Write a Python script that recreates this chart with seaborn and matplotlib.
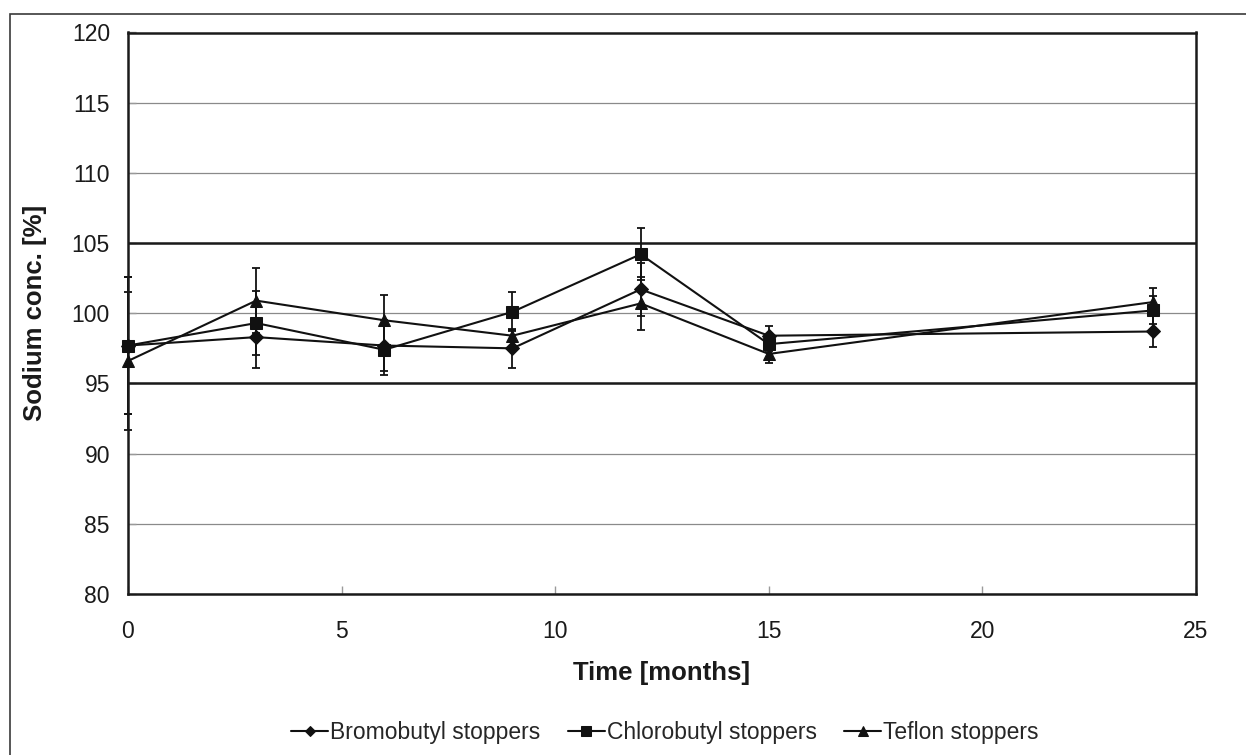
import numpy as np
import pandas as pd
import matplotlib
matplotlib.use("Agg")
import matplotlib.pyplot as plt
from matplotlib.patches import Rectangle
import seaborn as sns

# Storage time points
months = [0, 3, 6, 9, 12, 15, 24]

# Mean sodium concentration [%] and standard deviations per stopper type
bromobutyl = [97.7, 98.3, 97.7, 97.5, 101.7, 98.4, 98.7]
bromobutyl_sd = [4.9, 2.2, 1.8, 1.4, 1.9, 0.7, 1.1]
chlorobutyl = [97.7, 99.3, 97.4, 100.1, 104.2, 97.8, 100.2]
chlorobutyl_sd = [4.9, 2.3, 1.8, 1.4, 1.85, 0.5, 1.0]
teflon = [96.6, 100.9, 99.5, 98.4, 100.7, 97.1, 100.8]
teflon_sd = [4.9, 2.3, 1.8, 0.4, 1.9, 0.65, 1.0]

series_names = ["Bromobutyl stoppers", "Chlorobutyl stoppers", "Teflon stoppers"]
markers = {"Bromobutyl stoppers": "D", "Chlorobutyl stoppers": "s", "Teflon stoppers": "^"}
marker_sizes = {"Bromobutyl stoppers": 7, "Chlorobutyl stoppers": 8.5, "Teflon stoppers": 9}

# Specification limits
limits = [95, 105]

frames = []
for name, vals, sd in zip(series_names,
                          [bromobutyl, chlorobutyl, teflon],
                          [bromobutyl_sd, chlorobutyl_sd, teflon_sd]):
    frames.append(pd.DataFrame({"Time": months, "Conc": vals, "SD": sd, "Series": name}))
df = pd.concat(frames, ignore_index=True)

sns.set_theme(style="white")
plt.rcParams["font.family"] = ["Liberation Sans", "DejaVu Sans"]

W, H = 1246, 755
fig = plt.figure(figsize=(W / 100, H / 100), dpi=100)
ax = fig.add_axes([128 / W, 1 - 594 / H, (1196 - 128) / W, (594 - 32.5) / H])

# Horizontal gridlines and limit lines
for v in range(80, 121, 5):
    ax.axhline(v, color="#8a8a8a", lw=0.9, zorder=0)
for v in limits:
    ax.axhline(v, color="#1a1a1a", lw=1.8, zorder=1)

# Error bars
for name, g in df.groupby("Series", sort=False):
    eb = ax.errorbar(g["Time"], g["Conc"], yerr=g["SD"], fmt="none", ecolor="#111111",
                     elinewidth=1.3, capsize=2.8, capthick=1.3, zorder=2)
    for art in eb.lines[1]:
        art.set_clip_on(False)
    for art in eb.lines[2]:
        art.set_clip_on(False)

# Series lines with markers
for name in series_names:
    g = df[df["Series"] == name]
    sns.lineplot(data=g, x="Time", y="Conc", ax=ax, color="#111111", lw=1.5,
                 marker=markers[name], markersize=marker_sizes[name],
                 markeredgecolor="#111111", markerfacecolor="#111111",
                 label=name, legend=False, zorder=3, sort=False, clip_on=False)

ax.set_xlim(0, 25)
ax.set_ylim(80, 120)
ax.set_xticks(range(0, 26, 5))
ax.set_yticks(range(80, 121, 5))
ax.tick_params(axis="both", direction="in", length=6, width=1, color="#9a9a9a",
               labelsize=16.5, colors="#1a1a1a")
ax.tick_params(axis="x", pad=19, bottom=True)
ax.tick_params(axis="y", pad=13, left=True)
for s in ax.spines.values():
    s.set_color("#1a1a1a")
    s.set_linewidth(1.8)
    s.set_visible(True)

ax.set_xlabel("Time [months]", fontsize=18.5, fontweight="bold", labelpad=13, color="#1a1a1a")
ax.set_ylabel("Sodium conc. [%]", fontsize=18.5, fontweight="bold", labelpad=18, color="#1a1a1a")

handles, labels = ax.get_legend_handles_labels()
fig.legend(handles, labels, loc="center", bbox_to_anchor=(665 / W, 1 - 733 / H),
           ncol=3, frameon=False, fontsize=16.5, handlelength=1.6, handletextpad=0.1,
           columnspacing=1.2, markerscale=0.8)

# Outer border of the figure
fig.patches.append(Rectangle((9.5 / W, -0.05), 1.2, 1 - 14 / H + 0.05,
                             transform=fig.transFigure, fill=False,
                             edgecolor="#3a3a3a", lw=1.2))

fig.savefig("out.png", dpi=100, facecolor="white")
